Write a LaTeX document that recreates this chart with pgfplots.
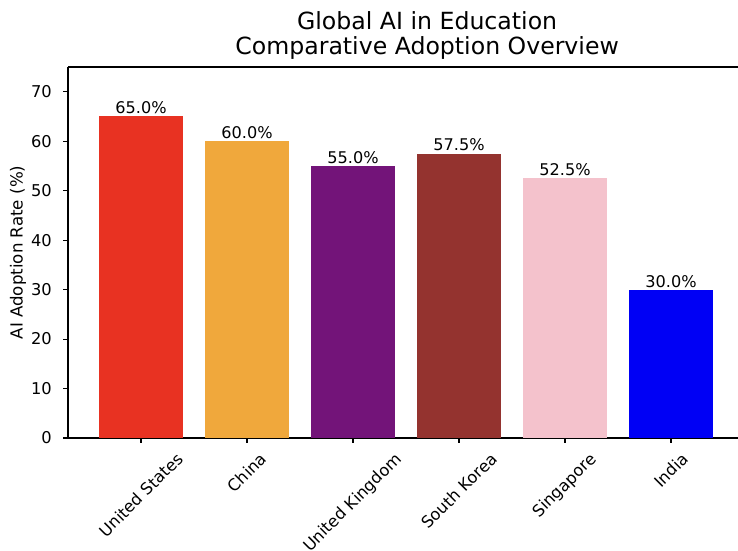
\documentclass[border=0pt]{standalone}
\usepackage{fontspec}
\setmainfont{DejaVu Sans}
\usepackage{pgfplots}
\pgfplotsset{compat=1.18}
\definecolor{cUS}{RGB}{232,50,34}
\definecolor{cCN}{RGB}{240,168,60}
\definecolor{cUK}{RGB}{115,20,121}
\definecolor{cKR}{RGB}{148,51,47}
\definecolor{cSG}{RGB}{244,194,204}
\definecolor{cIN}{RGB}{0,0,245}
\begin{document}
\begin{tikzpicture}
\useasboundingbox (0,0) rectangle (531.36pt,396pt);
\clip (0,0) rectangle (531.36pt,396pt);
\begin{axis}[
    at={(48.96pt,80.64pt)}, anchor=south west,
    scale only axis, width=482.4pt, height=267.12pt,
    xmin=-0.689, xmax=5.632, ymin=0, ymax=75,
    axis x line*=box, axis y line*=left,
    xtick pos=bottom,
    ybar, bar width=0.8, bar shift=0pt,
    xtick={0,1,2,3,4,5},
    xticklabels={
        \rotatebox{45}{United States},
        \rotatebox{45}{China},
        \rotatebox{45}{United Kingdom},
        \rotatebox{45}{South Korea},
        \rotatebox{45}{Singapore},
        \rotatebox{45}{India}},
    xticklabel style={anchor=north, inner sep=0pt, yshift=-6pt},
    ytick={0,10,20,30,40,50,60,70},
    yticklabel style={anchor=east, inner sep=0pt, xshift=-8pt},
    tick align=outside, major tick length=3.5pt,
    tick style={black, line width=0.8pt},
    axis line style={black, line width=0.8pt},
    ticklabel style={font=\fontsize{11.7}{14}\selectfont},
    /pgf/number format/assume math mode=true,
    ylabel={AI Adoption Rate (\%)},
    ylabel style={font=\fontsize{12}{14}\selectfont,
        at={(axis description cs:-0.0746,0.5)}, anchor=center},
    title={Global AI in Education\\Comparative Adoption Overview},
    title style={at={(0.536,1)}, anchor=south, align=center,
        font=\fontsize{17}{18}\selectfont, yshift=-4pt},
    nodes near coords={\pgfmathprintnumber[fixed,fixed zerofill,precision=1]{\pgfplotspointmeta}\%},
    nodes near coords style={font=\fontsize{11.6}{14}\selectfont, anchor=south, inner sep=1.5pt},
    every axis plot/.append style={draw=none},
]
\addplot[fill=cUS] coordinates {(0,65)};
\addplot[fill=cCN] coordinates {(1,60)};
\addplot[fill=cUK] coordinates {(2,55)};
\addplot[fill=cKR] coordinates {(3,57.5)};
\addplot[fill=cSG] coordinates {(4,52.5)};
\addplot[fill=cIN] coordinates {(5,30)};
\end{axis}
\end{tikzpicture}
\end{document}
